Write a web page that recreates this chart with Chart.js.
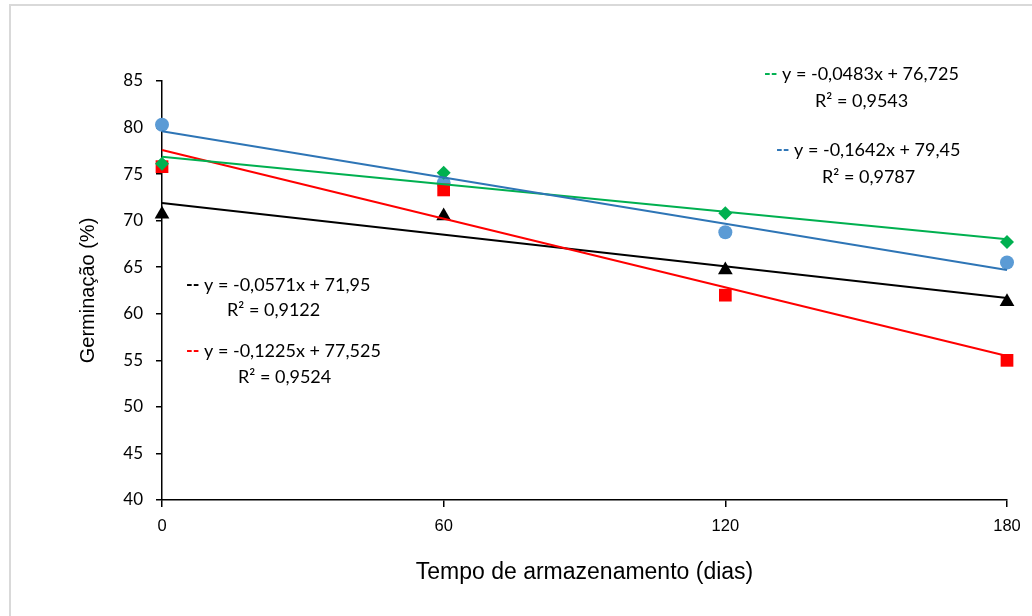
<!DOCTYPE html>
<html>
<head>
<meta charset="utf-8">
<script src="https://cdn.jsdelivr.net/npm/chart.js@4/dist/chart.umd.min.js"></script>
<style>
 body { margin: 0; background: #ffffff; }
 #wrap { width: 1032px; height: 616px; }
</style>
</head>
<body>
<div id="wrap"><canvas id="germChart" width="1032" height="616"></canvas></div>
<script>
var dias = [0, 60, 120, 180];

var serieAzul = [80.3, 74.05, 68.75, 65.5];
var serieVerde = [76.1, 75.15, 70.8, 67.7];
var serieVermelha = [75.8, 73.3, 62.0, 55.0];
var seriePreta = [70.7, 70.5, 64.7, 61.3];

var yTicks = [40, 45, 50, 55, 60, 65, 70, 75, 80, 85];
var xTicks = [0, 60, 120, 180];

var eqVerde = ["y = -0,0483x + 76,725", "R² = 0,9543"];
var eqAzul = ["y = -0,1642x + 79,45", "R² = 0,9787"];
var eqPreta = ["y = -0,0571x + 71,95", "R² = 0,9122"];
var eqVermelha = ["y = -0,1225x + 77,525", "R² = 0,9524"];

function toPoints(values) {
 return values.map(function (v, i) {
  return { x: dias[i], y: v };
 });
}

// linha de tendencia (minimos quadrados) a partir dos pontos
function trendLine(values) {
 var n = values.length;
 var mx = 0, my = 0;
 for (var i = 0; i < n; i++) {
  mx += dias[i];
  my += values[i];
 }
 mx = mx / n;
 my = my / n;
 var sxy = 0, sxx = 0;
 for (var j = 0; j < n; j++) {
  sxy += (dias[j] - mx) * (values[j] - my);
  sxx += (dias[j] - mx) * (dias[j] - mx);
 }
 var m = sxy / sxx;
 var b = my - m * mx;
 var x0 = dias[0];
 var x1 = dias[n - 1];
 return [{ x: x0, y: b + m * x0 }, { x: x1, y: b + m * x1 }];
}

function trendDataset(values, color) {
 return {
  type: "line",
  data: trendLine(values),
  borderColor: color,
  borderWidth: 2,
  pointRadius: 0,
  fill: false,
  clip: false,
  order: 1,
 };
}

function pointDataset(values, color, style, radius, order) {
 return {
  type: "scatter",
  data: toPoints(values),
  backgroundColor: color,
  borderColor: color,
  borderWidth: 0,
  pointStyle: style,
  pointRadius: radius,
  pointHoverRadius: radius,
  clip: false,
  order: order,
 };
}

var labelFont = "18px Lato, 'Noto Sans', sans-serif";
var dashFont = "bold 18px Lato, 'Noto Sans', sans-serif";

var equacoes = [
 { text: eqVerde, color: "#00b050", x: 764, y: 74, rx: 815, ry: 101 },
 { text: eqAzul, color: "#2e75b6", x: 776, y: 150, rx: 822, ry: 177 },
 { text: eqPreta, color: "#000000", x: 186, y: 285, rx: 227, ry: 310 },
 { text: eqVermelha, color: "#ff0000", x: 186, y: 351, rx: 238, ry: 377 },
];

var extrasPlugin = {
 id: "extras",
 beforeDraw: function (chart) {
  var ctx = chart.ctx;
  ctx.save();
  ctx.fillStyle = "#ffffff";
  ctx.fillRect(0, 0, chart.width, chart.height);
  ctx.strokeStyle = "#d9d9d9";
  ctx.lineWidth = 2;
  ctx.strokeRect(10, 5, chart.width + 20, chart.height + 20);
  ctx.restore();
 },
 afterDraw: function (chart) {
  var ctx = chart.ctx;
  ctx.save();
  ctx.textBaseline = "middle";
  ctx.textAlign = "left";
  equacoes.forEach(function (eq) {
   ctx.font = dashFont;
   ctx.fillStyle = eq.color;
   ctx.fillText("--", eq.x, eq.y);
   var w = ctx.measureText("--").width;
   ctx.font = labelFont;
   w += ctx.measureText(" ").width;
   ctx.fillStyle = "#000000";
   ctx.fillText(eq.text[0], eq.x + w, eq.y);
   ctx.fillText(eq.text[1], eq.rx, eq.ry);
  });
  ctx.restore();
 },
};

var ctx = document.getElementById("germChart");

new Chart(ctx, {
 data: {
  datasets: [
   trendDataset(serieAzul, "#2e75b6"),
   trendDataset(serieVerde, "#00b050"),
   trendDataset(serieVermelha, "#ff0000"),
   trendDataset(seriePreta, "#000000"),
   pointDataset(serieAzul, "#5b9bd5", "circle", 7, 5),
   pointDataset(serieVermelha, "#ff0000", "rect", 9, 4),
   pointDataset(serieVerde, "#00b050", "rectRot", 7, 3),
   pointDataset(seriePreta, "#000000", "triangle", 8.5, 2),
  ],
 },
 options: {
  responsive: false,
  animation: false,
  devicePixelRatio: 1,
  layout: {
   padding: { left: 0, right: 25, top: 81, bottom: 0 },
  },
  plugins: {
   legend: { display: false },
   tooltip: { enabled: false },
  },
  scales: {
   x: {
    type: "linear",
    min: 0,
    max: 180,
    afterBuildTicks: function (scale) {
     scale.ticks = xTicks.map(function (v) {
      return { value: v };
     });
    },
    afterFit: function (scale) {
     scale.height = 116;
    },
    border: { color: "#000000", width: 1.5 },
    grid: {
     drawOnChartArea: false,
     drawTicks: true,
     tickLength: 7,
     color: "#000000",
     lineWidth: 1.5,
    },
    ticks: {
     color: "#000000",
     padding: 10,
     maxRotation: 0,
     font: { family: "'Liberation Sans', Arial, sans-serif", size: 16.5 },
    },
    title: {
     display: true,
     text: "Tempo de armazenamento (dias)",
     color: "#000000",
     font: { family: "'Liberation Sans', Arial, sans-serif", size: 23 },
     padding: { top: 0, bottom: 30 },
    },
   },
   y: {
    min: 40,
    max: 85,
    afterBuildTicks: function (scale) {
     scale.ticks = yTicks.map(function (v) {
      return { value: v };
     });
    },
    afterFit: function (scale) {
     scale.width = 162;
    },
    border: { color: "#000000", width: 1.5 },
    grid: {
     drawOnChartArea: false,
     drawTicks: true,
     tickLength: 6,
     color: "#000000",
     lineWidth: 1.5,
    },
    ticks: {
     color: "#000000",
     padding: 13,
     font: { family: "Lato, 'Noto Sans', sans-serif", size: 17 },
    },
    title: {
     display: true,
     text: "Germinação (%)",
     color: "#000000",
     font: { family: "'Liberation Sans', Arial, sans-serif", size: 20 },
     padding: { top: 76, bottom: 0 },
    },
   },
  },
 },
 plugins: [extrasPlugin],
});
</script>
</body>
</html>
